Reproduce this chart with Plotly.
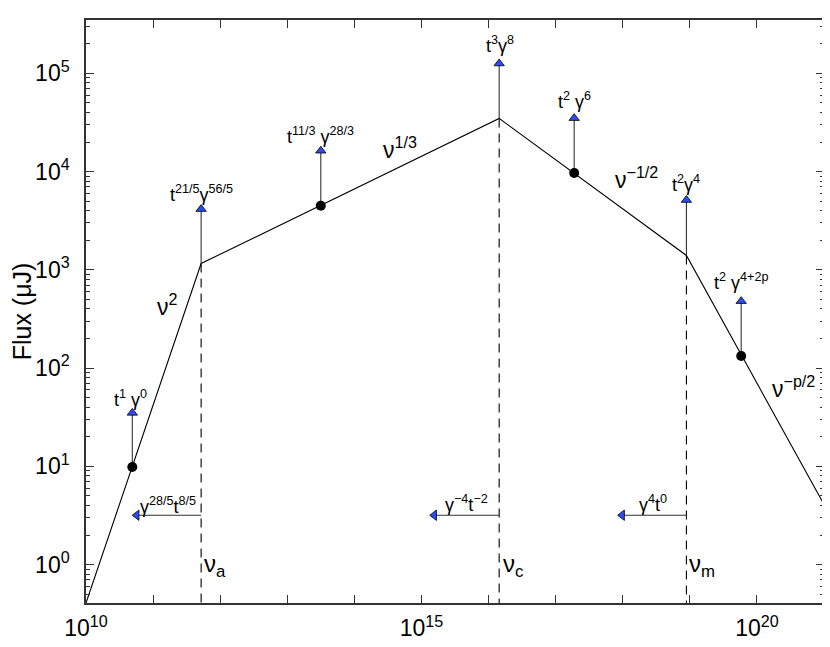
import plotly.graph_objects as go

# Broken power-law spectrum vertices (frequency in Hz, flux in microJy)
break_nu = [1e10, 5.2e11, 1.44e16, 8.9e18, 1e21]
break_flux = [0.406, 1160, 34800, 1400, 4.08]

# break frequencies (dashed verticals) : nu_a, nu_c, nu_m
brk_nu = [5.2e11, 1.44e16, 8.9e18]
brk_flux = [1160, 34800, 1400]

# vertical arrows: base on the spectrum, tip at the triangle
arrow_nu = [4.9e10, 5.2e11, 3.16e13, 1.44e16, 1.89e17, 8.9e18, 5.83e19]
arrow_base = [9.86, 1160, 4490, 34800, 9660, 1400, 133]
arrow_tip = [35, 4150, 16300, 1.26e5, 35000, 5130, 480]

# sample points (black dots)
dot_nu = [4.9e10, 3.16e13, 1.89e17, 5.83e19]
dot_flux = [9.86, 4490, 9660, 133]

# horizontal arrows from the break frequencies
harrow_from = [5.2e11, 1.44e16, 8.9e18]
harrow_to = [5.7e10, 1.55e15, 9.8e17]
harrow_flux = [3.18, 3.18, 3.18]

x_tickvals = [10.0 ** k for k in range(10, 22)]
x_ticktext = ["10<sup>10</sup>" if k == 10 else "10<sup>15</sup>" if k == 15 else
              "10<sup>20</sup>" if k == 20 else "" for k in range(10, 22)]
y_tickvals = [10.0 ** k for k in range(0, 6)]
y_ticktext = ["10<sup>%d</sup>" % k for k in range(0, 6)]
y_minor = [m * 10.0 ** k for k in range(-1, 6) for m in range(2, 10)]

FONT = "Liberation Sans, Arial, Helvetica, sans-serif"
BLUE = "#2b4cf5"

fig = go.Figure()

# spectrum
fig.add_trace(go.Scatter(x=break_nu, y=break_flux, mode="lines",
                         line=dict(color="black", width=1.1), hoverinfo="skip"))

# dashed vertical lines at break frequencies
for nu, fl in zip(brk_nu, brk_flux):
    fig.add_trace(go.Scatter(x=[nu, nu], y=[fl, 0.1], mode="lines",
                             line=dict(color="black", width=1.1, dash="9px,6px"),
                             hoverinfo="skip"))

# vertical arrows
for nu, b, t in zip(arrow_nu, arrow_base, arrow_tip):
    fig.add_trace(go.Scatter(x=[nu, nu], y=[b, t], mode="lines",
                             line=dict(color="#333333", width=1.1), hoverinfo="skip"))
fig.add_trace(go.Scatter(x=arrow_nu, y=arrow_tip, mode="markers",
                         marker=dict(symbol="triangle-up", size=9, color=BLUE,
                                     line=dict(color="black", width=0.8)),
                         hoverinfo="skip"))

# horizontal arrows
for f, t, y in zip(harrow_from, harrow_to, harrow_flux):
    fig.add_trace(go.Scatter(x=[f, t], y=[y, y], mode="lines",
                             line=dict(color="#333333", width=1.1), hoverinfo="skip"))
fig.add_trace(go.Scatter(x=harrow_to, y=harrow_flux, mode="markers",
                         marker=dict(symbol="triangle-left", size=9, color=BLUE,
                                     line=dict(color="black", width=0.8)),
                         hoverinfo="skip"))

# black dots
fig.add_trace(go.Scatter(x=dot_nu, y=dot_flux, mode="markers",
                         marker=dict(symbol="circle", size=10, color="black"),
                         hoverinfo="skip"))

# text labels: (log10 x, log10 y, text, size)
labels = [
    (11.21, 2.64, "ν<sup>2</sup>", 23),
    (14.68, 4.24, "ν<sup>1/3</sup>", 23),
    (18.20, 3.93, "ν<sup>−1/2</sup>", 23),
    (20.54, 1.81, "ν<sup>−p/2</sup>", 23),
    (10.67, 1.69, "t<sup>1</sup> γ<sup>0</sup>", 18),
    (11.72, 3.78, "t<sup>21/5</sup>γ<sup>56/5</sup>", 18),
    (13.50, 4.37, "t<sup>11/3</sup> γ<sup>28/3</sup>", 18),
    (16.165, 5.29, "t<sup>3</sup>γ<sup>8</sup>", 18),
    (17.276, 4.72, "t<sup>2</sup> γ<sup>6</sup>", 18),
    (18.95, 3.88, "t<sup>2</sup>γ<sup>4</sup>", 18),
    (19.77, 2.886, "t<sup>2</sup> γ<sup>4+2p</sup>", 18),
    (11.215, 0.604, "γ<sup>28/5</sup>t<sup>8/5</sup>", 18),
    (15.666, 0.624, "γ<sup>−4</sup>t<sup>−2</sup>", 18),
    (18.447, 0.624, "γ<sup>4</sup>t<sup>0</sup>", 18),
    (11.923, -0.01, "ν<sub>a</sub>", 24),
    (16.366, -0.01, "ν<sub>c</sub>", 24),
    (19.185, -0.01, "ν<sub>m</sub>", 24),
]
for lx, ly, txt, sz in labels:
    fig.add_annotation(x=lx, y=ly, xref="x", yref="y", text=txt, showarrow=False,
                       font=dict(family=FONT, size=sz, color="black"),
                       xanchor="center", yanchor="middle")

axis_common = dict(showline=True, linecolor="#333333", linewidth=1.5, mirror="ticks",
                   ticks="inside", ticklen=8, tickwidth=1, tickcolor="#333333",
                   showgrid=False, zeroline=False, automargin=False,
                   tickfont=dict(family=FONT, size=23, color="black"))

# page body has an 8px margin, so the figure is sized/offset to compensate
fig.update_layout(
    width=822, height=639, autosize=False,
    margin=dict(l=78, r=6, t=12, b=44),
    paper_bgcolor="white", plot_bgcolor="white",
    showlegend=False,
    xaxis=dict(type="log", range=[10, 21], tickmode="array",
               tickvals=x_tickvals, ticktext=x_ticktext, ticklabelstandoff=4,
               **axis_common),
    yaxis=dict(type="log", range=[-0.391, 5.543], tickmode="array",
               tickvals=y_tickvals, ticktext=y_ticktext, ticklabelstandoff=10,
               minor=dict(tickmode="array", tickvals=y_minor, ticks="inside",
                          ticklen=4, tickcolor="#333333", showgrid=False),
               title=dict(text="Flux (μJ)", font=dict(family=FONT, size=25, color="black"),
                          standoff=4),
               **axis_common),
)

fig.write_html("out.html")
